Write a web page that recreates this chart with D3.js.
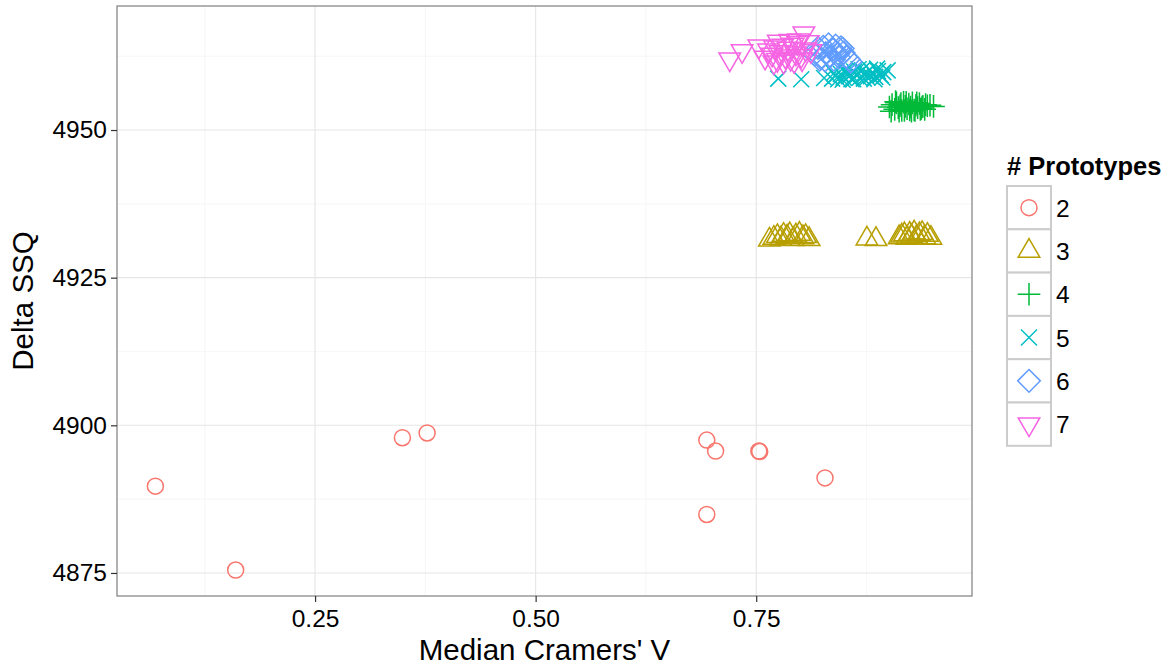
<!DOCTYPE html>
<html>
<head>
<meta charset="utf-8">
<script src="https://cdn.jsdelivr.net/npm/d3@7"></script>
<style>
  body { margin: 0; background: #fff; }
  text { font-family: "Liberation Sans", Arial, sans-serif; }
</style>
</head>
<body>
<svg id="chart"></svg>
<script>
// values, one pair of arrays per prototype count
const protoLevels = ["2", "3", "4", "5", "6", "7"];
const protoColors = ["#F8766D", "#B79F00", "#00BA38", "#00BFC4", "#619CFF", "#F564E3"];

const cramer2 = [0.069, 0.160, 0.349, 0.377, 0.694, 0.704, 0.753, 0.754, 0.828, 0.694];
const ssq2 = [4889.7, 4875.5, 4897.9, 4898.7, 4897.5, 4895.65, 4895.65, 4895.55, 4891.1, 4884.9];

const cramer3 = [0.765, 0.770, 0.774, 0.778, 0.781, 0.785, 0.788, 0.792, 0.795, 0.799, 0.803, 0.806, 0.810,
  0.8755, 0.8858, 0.912, 0.915, 0.918, 0.921, 0.924, 0.926, 0.929, 0.932, 0.935, 0.938, 0.941, 0.944, 0.948];
const ssq3 = [4931.4, 4931.7, 4932.0, 4931.6, 4932.2, 4931.9, 4932.3, 4931.5, 4932.1, 4932.4, 4931.8, 4932.0, 4931.5,
  4931.6, 4931.5, 4931.8, 4932.1, 4932.3, 4931.7, 4932.4, 4932.0, 4932.6, 4931.9, 4932.3, 4932.5, 4931.8, 4932.2, 4931.7];

const cramer4 = [0.901, 0.904, 0.907, 0.909, 0.911, 0.913, 0.915, 0.917, 0.919, 0.921, 0.923, 0.925, 0.927, 0.929,
  0.931, 0.933, 0.935, 0.937, 0.939, 0.941, 0.944, 0.947, 0.951, 0.912, 0.918, 0.924, 0.930, 0.936,
  0.903, 0.908, 0.914, 0.920, 0.926, 0.932, 0.938, 0.942];
const ssq4 = [4953.9, 4954.3, 4953.5, 4954.6, 4953.8, 4954.1, 4953.3, 4954.7, 4954.0, 4953.6, 4954.4, 4953.9, 4954.6, 4953.4,
  4954.2, 4953.8, 4954.5, 4953.6, 4954.0, 4953.5, 4954.1, 4954.2, 4954.0, 4953.2, 4953.3, 4953.4, 4953.3, 4953.5,
  4953.2, 4954.8, 4954.5, 4954.7, 4953.2, 4954.6, 4953.9, 4954.3];

const cramer5 = [0.775, 0.801, 0.827, 0.836, 0.840, 0.843, 0.846, 0.849, 0.852, 0.855, 0.858, 0.861, 0.864, 0.867,
  0.870, 0.873, 0.876, 0.879, 0.882, 0.885, 0.888, 0.891, 0.894, 0.899, 0.848, 0.860, 0.872, 0.884,
  0.838, 0.851, 0.857, 0.866, 0.875, 0.880, 0.887, 0.893];
const ssq5 = [4958.7, 4958.6, 4958.8, 4958.7, 4959.2, 4958.6, 4959.5, 4958.9, 4959.7, 4959.1, 4958.6, 4959.9, 4959.3, 4958.8,
  4960.1, 4959.4, 4958.9, 4960.2, 4959.6, 4959.0, 4960.0, 4959.3, 4959.8, 4960.1, 4958.5, 4958.6, 4958.7, 4958.6,
  4959.6, 4960.0, 4959.4, 4960.3, 4959.7, 4959.1, 4960.4, 4958.9];

const cramer6 = [0.816, 0.820, 0.823, 0.826, 0.829, 0.832, 0.834, 0.837, 0.840, 0.843, 0.846, 0.849, 0.852, 0.855,
  0.857, 0.828, 0.838, 0.848, 0.822, 0.844];
const ssq6 = [4962.8, 4963.9, 4962.2, 4964.1, 4963.0, 4964.5, 4962.5, 4963.6, 4964.3, 4962.9, 4964.0, 4963.1, 4962.4, 4962.0,
  4961.6, 4961.8, 4961.9, 4963.8, 4961.9, 4962.3];

const cramer7 = [0.720, 0.734, 0.753, 0.760, 0.764, 0.768, 0.771, 0.774, 0.777, 0.780, 0.783, 0.786, 0.789, 0.792,
  0.795, 0.798, 0.801, 0.804, 0.806, 0.809, 0.812, 0.770, 0.781, 0.793, 0.802, 0.775, 0.788, 0.797];
const ssq7 = [4962.0, 4963.4, 4964.2, 4962.3, 4963.5, 4962.8, 4964.0, 4961.9, 4963.2, 4964.3, 4962.5, 4963.8, 4962.1, 4964.5,
  4963.0, 4965.2, 4962.6, 4966.4, 4963.7, 4964.9, 4963.4, 4961.5, 4961.6, 4961.7, 4962.0, 4965.0, 4965.1, 4964.8];

const xTicks = [0.25, 0.50, 0.75];
const yTicks = [4875, 4900, 4925, 4950];

const groups = [
  [cramer2, ssq2], [cramer3, ssq3], [cramer4, ssq4],
  [cramer5, ssq5], [cramer6, ssq6], [cramer7, ssq7]
];

const points = [];
groups.forEach((g, gi) => {
  g[0].forEach((v, i) => points.push({ proto: protoLevels[gi], x: v, y: g[1][i] }));
});

const width = 1172, height = 668;
const panel = { left: 117, right: 972, top: 6, bottom: 596 };

const svg = d3.select("#chart")
  .attr("width", width)
  .attr("height", height);

svg.append("rect").attr("width", width).attr("height", height).attr("fill", "#fff");

const x = d3.scaleLinear().domain([0.0255, 0.9946]).range([panel.left, panel.right]);
const y = d3.scaleLinear().domain([4871.1, 4971.0]).range([panel.bottom, panel.top]);
const color = d3.scaleOrdinal().domain(protoLevels).range(protoColors);

// R style point shapes (RADIUS based like base graphics pch)
const R = 8;
function shapePath(proto) {
  const p = d3.path();
  if (proto === "2") {
    p.arc(0, 0, R, 0, 2 * Math.PI);
  } else if (proto === "3" || proto === "7") {
    const s = proto === "3" ? 1 : -1;
    const r = 1.5551 * R, xc = 1.3468 * R, yc = 0.7776 * R;
    p.moveTo(0, -s * r);
    p.lineTo(xc, s * yc);
    p.lineTo(-xc, s * yc);
    p.closePath();
  } else if (proto === "4") {
    const a = Math.SQRT2 * R;
    p.moveTo(-a, 0); p.lineTo(a, 0);
    p.moveTo(0, -a); p.lineTo(0, a);
  } else if (proto === "5") {
    p.moveTo(-R, -R); p.lineTo(R, R);
    p.moveTo(-R, R); p.lineTo(R, -R);
  } else if (proto === "6") {
    const a = Math.SQRT2 * R;
    p.moveTo(0, -a); p.lineTo(a, 0); p.lineTo(0, a); p.lineTo(-a, 0);
    p.closePath();
  }
  return p.toString();
}

// grid
const minorX = [0.125, 0.375, 0.625, 0.875];
const minorY = [4887.5, 4912.5, 4937.5, 4962.5];
const grid = svg.append("g");
grid.selectAll(".mx").data(minorX).enter().append("line")
  .attr("x1", d => x(d)).attr("x2", d => x(d))
  .attr("y1", panel.top).attr("y2", panel.bottom)
  .attr("stroke", "#F7F7F7").attr("stroke-width", 1.1);
grid.selectAll(".my").data(minorY).enter().append("line")
  .attr("y1", d => y(d)).attr("y2", d => y(d))
  .attr("x1", panel.left).attr("x2", panel.right)
  .attr("stroke", "#F7F7F7").attr("stroke-width", 1.1);
grid.selectAll(".gx").data(xTicks).enter().append("line")
  .attr("x1", d => x(d)).attr("x2", d => x(d))
  .attr("y1", panel.top).attr("y2", panel.bottom)
  .attr("stroke", "#E5E5E5").attr("stroke-width", 1.1);
grid.selectAll(".gy").data(yTicks).enter().append("line")
  .attr("y1", d => y(d)).attr("y2", d => y(d))
  .attr("x1", panel.left).attr("x2", panel.right)
  .attr("stroke", "#E5E5E5").attr("stroke-width", 1.1);

// points
svg.append("g").selectAll("path")
  .data(points)
  .enter().append("path")
  .attr("transform", d => `translate(${x(d.x)},${y(d.y)})`)
  .attr("d", d => shapePath(d.proto))
  .attr("fill", "none")
  .attr("stroke", d => color(d.proto))
  .attr("stroke-width", 1.5);

// panel border
svg.append("rect")
  .attr("x", panel.left).attr("y", panel.top)
  .attr("width", panel.right - panel.left).attr("height", panel.bottom - panel.top)
  .attr("fill", "none").attr("stroke", "#7F7F7F").attr("stroke-width", 1.2);

// axes
const xAxis = svg.append("g")
  .attr("transform", `translate(0,${panel.bottom})`)
  .call(d3.axisBottom(x).tickValues(xTicks).tickFormat(d3.format(".2f")).tickSizeInner(6).tickSizeOuter(0).tickPadding(8));
const yAxis = svg.append("g")
  .attr("transform", `translate(${panel.left},0)`)
  .call(d3.axisLeft(y).tickValues(yTicks).tickFormat(d3.format("d")).tickSizeInner(6).tickSizeOuter(0).tickPadding(4));
[xAxis, yAxis].forEach(a => {
  a.select(".domain").remove();
  a.selectAll(".tick line").attr("stroke", "#333").attr("stroke-width", 1.2);
  a.selectAll(".tick text").attr("fill", "#000").style("font-size", "24.5px")
    .style("font-family", "Liberation Sans, Arial, sans-serif");
});
xAxis.selectAll(".tick text").attr("dy", "0.71em");

svg.append("text")
  .attr("x", (panel.left + panel.right) / 2).attr("y", 660)
  .attr("text-anchor", "middle")
  .style("font-size", "29.5px")
  .text("Median Cramers' V");

svg.append("text")
  .attr("transform", `translate(33,${(panel.top + panel.bottom) / 2}) rotate(-90)`)
  .attr("text-anchor", "middle")
  .style("font-size", "29.5px")
  .text("Delta SSQ");

// legend
const legend = svg.append("g").attr("transform", "translate(1007,0)");
legend.append("text")
  .attr("x", 0).attr("y", 175)
  .style("font-size", "25.5px").style("font-weight", "bold")
  .text("# Prototypes");
const keyH = 43.3, keyW = 44, keyTop = 186;
const keys = legend.selectAll(".key").data(protoLevels).enter().append("g")
  .attr("transform", (d, i) => `translate(0,${keyTop + i * keyH})`);
keys.append("rect")
  .attr("width", keyW).attr("height", keyH)
  .attr("fill", "#fff").attr("stroke", "#CCCCCC").attr("stroke-width", 2);
keys.append("path")
  .attr("transform", `translate(${keyW / 2},${keyH / 2})`)
  .attr("d", d => shapePath(d))
  .attr("fill", "none").attr("stroke", d => color(d)).attr("stroke-width", 1.5);
keys.append("text")
  .attr("x", keyW + 5).attr("y", keyH / 2 + 9)
  .style("font-size", "24.5px")
  .text(d => d);
</script>
</body>
</html>
